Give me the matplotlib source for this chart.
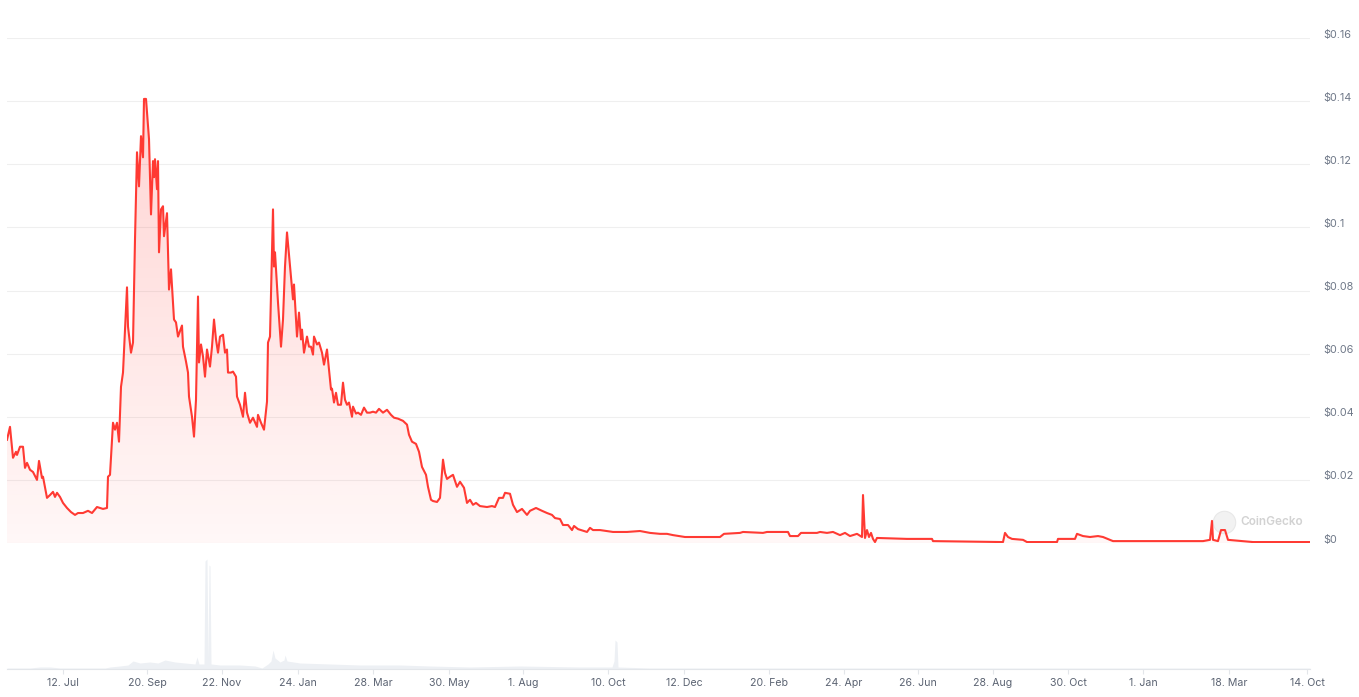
import numpy as np
import matplotlib
matplotlib.use("Agg")
import matplotlib.pyplot as plt

plt.rcParams['font.family'] = ['Inter', 'DejaVu Sans']

# ordinal position of each sample along the time axis, and price in USD
pos = [7, 10, 13, 16, 17, 20, 23, 25, 27, 30, 33, 37, 39, 42, 43, 47, 50, 53, 55, 57,
       60, 63, 67, 71, 75, 78, 83, 88, 92, 97, 100, 103, 107, 108, 110, 113, 115, 117, 119, 121,
       123, 127, 128, 131, 133, 135, 137, 139, 141, 143, 144, 146, 149, 151, 153, 154, 155, 157, 158, 159,
       161, 163, 164, 167, 169, 171, 174, 176, 178, 182, 183, 186, 188, 189, 192, 194, 196, 198, 199, 201,
       203, 205, 207, 210, 212, 214, 216, 218, 220, 223, 225, 227, 228, 231, 233, 236, 237, 240, 243, 245,
       247, 250, 253, 257, 258, 261, 264, 267, 268, 270, 273, 274, 275, 278, 281, 283, 285, 287, 290, 293,
       294, 297, 299, 301, 302, 304, 307, 309, 311, 313, 314, 317, 319, 322, 324, 327, 329, 331, 332, 334,
       336, 338, 341, 343, 345, 347, 349, 352, 353, 356, 358, 361, 364, 367, 370, 373, 376, 379, 383, 387,
       391, 394, 398, 403, 407, 409, 412, 416, 419, 422, 426, 428, 431, 433, 437, 440, 443, 445, 447, 450,
       453, 457, 460, 464, 467, 470, 473, 476, 480, 487, 492, 495, 499, 503, 505, 510, 513, 517, 522, 527,
       530, 536, 542, 547, 552, 555, 560, 563, 568, 572, 574, 578, 587, 590, 593, 600, 613, 627, 640, 650,
       660, 667, 673, 685, 707, 720, 724, 740, 743, 763, 767, 788, 790, 798, 801, 817, 820, 827, 833, 840,
       845, 850, 857, 862, 863, 865, 867, 869, 871, 873, 875, 877, 907, 932, 933, 1003, 1005, 1008, 1012, 1023,
       1027, 1057, 1058, 1075, 1077, 1083, 1090, 1098, 1103, 1113, 1137, 1170, 1203, 1210, 1212, 1213, 1218, 1221, 1225, 1228,
       1253, 1310]
price = [0.0327, 0.0368, 0.0270, 0.0289, 0.0279, 0.0305, 0.0305, 0.0238, 0.0254, 0.0232, 0.0225, 0.0200, 0.0260, 0.0206, 0.0210, 0.0143, 0.0152, 0.0162, 0.0146, 0.0159,
         0.0146, 0.0127, 0.0111, 0.0098, 0.0089, 0.0095, 0.0095, 0.0102, 0.0095, 0.0114, 0.0111, 0.0108, 0.0111, 0.0210, 0.0216, 0.0381, 0.0359, 0.0381, 0.0321, 0.0495,
         0.0540, 0.0810, 0.0686, 0.0603, 0.0635, 0.0962, 0.1238, 0.1130, 0.1289, 0.1222, 0.1407, 0.1407, 0.1280, 0.1041, 0.1210, 0.1159, 0.1216, 0.1121, 0.1210, 0.0921,
         0.1057, 0.1067, 0.0972, 0.1045, 0.0803, 0.0867, 0.0708, 0.0699, 0.0654, 0.0689, 0.0622, 0.0575, 0.0540, 0.0464, 0.0400, 0.0337, 0.0454, 0.0781, 0.0572, 0.0629,
         0.0591, 0.0527, 0.0613, 0.0559, 0.0622, 0.0708, 0.0645, 0.0603, 0.0654, 0.0660, 0.0603, 0.0613, 0.0540, 0.0540, 0.0543, 0.0527, 0.0464, 0.0438, 0.0400, 0.0476,
         0.0413, 0.0381, 0.0397, 0.0368, 0.0406, 0.0381, 0.0359, 0.0448, 0.0635, 0.0654, 0.1057, 0.0876, 0.0921, 0.0762, 0.0622, 0.0708, 0.0876, 0.0984, 0.0876, 0.0772,
         0.0819, 0.0654, 0.0730, 0.0645, 0.0676, 0.0603, 0.0654, 0.0622, 0.0622, 0.0597, 0.0654, 0.0629, 0.0635, 0.0603, 0.0565, 0.0613, 0.0549, 0.0486, 0.0489, 0.0445,
         0.0476, 0.0438, 0.0438, 0.0508, 0.0454, 0.0438, 0.0445, 0.0400, 0.0432, 0.0410, 0.0413, 0.0406, 0.0429, 0.0413, 0.0413, 0.0416, 0.0413, 0.0425, 0.0413, 0.0422,
         0.0406, 0.0397, 0.0394, 0.0387, 0.0375, 0.0343, 0.0321, 0.0314, 0.0289, 0.0241, 0.0216, 0.0178, 0.0137, 0.0133, 0.0130, 0.0143, 0.0264, 0.0222, 0.0203, 0.0210,
         0.0216, 0.0178, 0.0194, 0.0175, 0.0127, 0.0137, 0.0121, 0.0127, 0.0117, 0.0114, 0.0117, 0.0114, 0.0143, 0.0143, 0.0159, 0.0156, 0.0121, 0.0098, 0.0108, 0.0089,
         0.0102, 0.0111, 0.0102, 0.0095, 0.0089, 0.0079, 0.0076, 0.0057, 0.0057, 0.0041, 0.0054, 0.0044, 0.0035, 0.0048, 0.0041, 0.0041, 0.0035, 0.0035, 0.0038, 0.0032,
         0.0029, 0.0029, 0.0025, 0.0019, 0.0019, 0.0019, 0.0029, 0.0032, 0.0035, 0.0032, 0.0035, 0.0035, 0.0022, 0.0022, 0.0032, 0.0032, 0.0035, 0.0032, 0.0035, 0.0025,
         0.0032, 0.0022, 0.0029, 0.0019, 0.0152, 0.0016, 0.0041, 0.0019, 0.0032, 0.0013, 0.0003, 0.0016, 0.0013, 0.0013, 0.0006, 0.0003, 0.0032, 0.0019, 0.0013, 0.0010,
         0.0003, 0.0003, 0.0013, 0.0013, 0.0029, 0.0022, 0.0019, 0.0022, 0.0019, 0.0006, 0.0006, 0.0006, 0.0006, 0.0010, 0.0070, 0.0010, 0.0006, 0.0041, 0.0041, 0.0010,
         0.0003, 0.0003]

# trading volume (relative units)
vol_pos = [7, 30, 40, 50, 60, 105, 110, 120, 128, 133, 140, 150, 158, 165, 175, 185, 195, 197, 199, 204,
           205, 207, 208, 209, 210, 211, 220, 240, 255, 262, 268, 271, 273, 275, 280, 284, 285, 287, 300, 330,
           360, 400, 430, 470, 520, 580, 612, 614, 615, 617, 618, 650, 800, 1310]
vol_val = [1, 1, 2, 2, 1, 1, 2, 3, 4, 8, 6, 7, 6, 9, 7, 6, 5, 12, 5, 5,
           108, 110, 10, 104, 103, 5, 4, 4, 3, 1, 5, 8, 19, 11, 7, 9, 14, 8, 6, 5,
           4, 4, 3, 2, 3, 2, 2, 8, 29, 27, 2, 1, 1, 1]

tick_pos = [63, 147, 222, 298, 373, 449, 523, 608, 684, 769, 844, 918, 993, 1068, 1143, 1229, 1307]
tick_lbl = ['12. Jul', '20. Sep', '22. Nov', '24. Jan', '28. Mar', '30. May', '1. Aug', '10. Oct',
            '12. Dec', '20. Feb', '24. Apr', '26. Jun', '28. Aug', '30. Oct', '1. Jan', '18. Mar', '14. Oct']
y_ticks = [0, 0.02, 0.04, 0.06, 0.08, 0.1, 0.12, 0.14, 0.16]
y_lbl = ['$0', '$0.02', '$0.04', '$0.06', '$0.08', '$0.1', '$0.12', '$0.14', '$0.16']

LINE = '#ff3a33'
W, H = 1359, 697
x0, x1 = 7, 1310

fig = plt.figure(figsize=(W / 100, H / 100), dpi=100)
ax = fig.add_axes([x0 / W, 1 - 543 / H, (x1 - x0) / W, (543 - 38) / H])
axv = fig.add_axes([x0 / W, 1 - 669 / H, (x1 - x0) / W, 110 / H])

# price pane
ax.set_xlim(x0, x1)
ax.set_ylim(0, 0.16)
ax.axis('off')
for v in y_ticks:
    ax.axhline(v, color='#efefef', lw=0.8, zorder=0)
for v, s in zip(y_ticks, y_lbl):
    ax.annotate(s, xy=(1, v), xycoords=('axes fraction', 'data'), xytext=(9.5, 2.5),
                textcoords='offset points', ha='left', va='center', fontsize=7.8,
                color='#6f7888', annotation_clip=False)

# gradient fill under the line
poly = ax.fill_between(pos, price, 0, facecolor='none', edgecolor='none')
levels = np.linspace(0, 0.16, 256)
grad = np.zeros((256, 1, 4))
grad[:, 0, 0] = 1.0
grad[:, 0, 1] = 0.227
grad[:, 0, 2] = 0.2
grad[:, 0, 3] = 0.04 + 1.25 * levels
im = ax.imshow(grad, origin='lower', extent=[x0, x1, 0, 0.16], aspect='auto', zorder=1)
im.set_clip_path(poly.get_paths()[0], ax.transData)
poly.remove()

ax.plot(pos, price, color=LINE, lw=1.5, solid_joinstyle='round', zorder=3)

# watermark
ax.scatter([1224], [0.0067], s=260, color='#f2f2f2', edgecolor='#e8e8e8', lw=0.8, zorder=2)
ax.text(1240, 0.0067, 'CoinGecko', fontsize=8.5, color='#d2d2d2', fontweight='semibold',
        va='center', ha='left', zorder=2)

# volume pane
axv.set_xlim(x0, x1)
axv.set_ylim(0, 110)
axv.fill_between(vol_pos, vol_val, 0, color='#edf0f4', lw=0)
for s in ['top', 'left', 'right']:
    axv.spines[s].set_visible(False)
axv.spines['bottom'].set_color('#e3e6ea')
axv.spines['bottom'].set_linewidth(0.8)
axv.set_yticks([])
axv.set_xticks(tick_pos)
axv.set_xticklabels(tick_lbl)
axv.tick_params(axis='x', length=3.6, width=0.8, color='#e3e6ea', pad=3,
                labelsize=7.6, labelcolor='#5b6372')

fig.savefig('out.png', dpi=100, facecolor='white')
